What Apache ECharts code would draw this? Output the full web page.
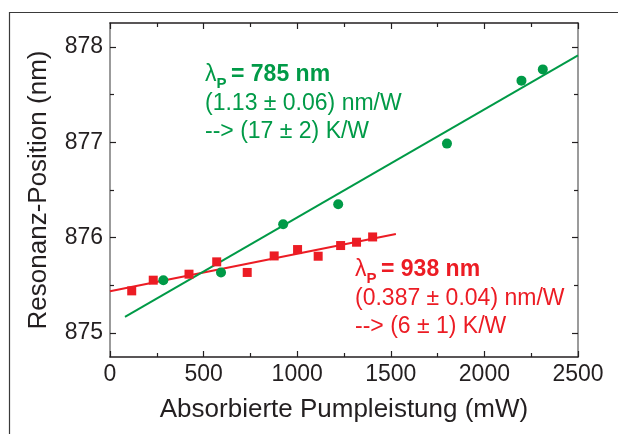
<!DOCTYPE html>
<html>
<head>
<meta charset="utf-8">
<script src="https://cdn.jsdelivr.net/npm/echarts@6/dist/echarts.min.js"></script>
<style>html,body{margin:0;padding:0;background:#fff}#c{width:618px;height:434px}</style>
</head>
<body>
<div id="c"></div>
<script>
// Data
const greenX = [285, 593, 925, 1219, 1800, 2198, 2312];
const greenY = [875.555, 875.636, 876.141, 876.351, 876.986, 877.646, 877.764];
const redX = [116, 231, 422, 570, 733, 877, 1002, 1112, 1232, 1317, 1403];
const redY = [875.443, 875.555, 875.618, 875.747, 875.636, 875.809, 875.876, 875.806, 875.918, 875.953, 876.008];
const greenFitX = [80, 2500];
const greenFitY = [875.17, 877.91];
const redFitX = [0, 1527];
const redFitY = [875.44, 876.04];
const yMajorTicks = [875, 876, 877, 878];
const yMinorTicks = [875.5, 876.5, 877.5];
const xTitle = 'Absorbierte Pumpleistung (mW)';
const yTitle = 'Resonanz-Position (nm)';
const greenText = ['λ', 'P', '= 785 nm', '(1.13 ± 0.06) nm/W', '--> (17 ± 2) K/W'];
const redText = ['λ', 'P', '= 938 nm', '(0.387 ± 0.04) nm/W', '--> (6 ± 1) K/W'];

const GREEN = '#009a47';
const RED = '#ec1c24';
const FONT = '"Liberation Sans", Arial, Helvetica, sans-serif';
const zip = (a, b) => a.map((v, i) => [v, b[i]]);

const yBase = {
  type: 'value', min: 874.75, max: 878.25,
  splitLine: { show: false }
};
const chart = echarts.init(document.getElementById('c'), null, { renderer: 'canvas' });
chart.setOption({
  animation: false,
  backgroundColor: '#fff',
  grid: { left: 110, top: 23, width: 468, height: 334, containLabel: false },
  xAxis: [
    {
      type: 'value', min: 0, max: 2500, interval: 500, position: 'bottom',
      name: xTitle, nameLocation: 'middle', nameGap: 40,
      nameTextStyle: { fontFamily: FONT, fontSize: 26, color: '#231f20' },
      axisLine: { lineStyle: { color: '#231f20', width: 1.5 } },
      axisTick: { inside: true, length: 6, lineStyle: { color: '#231f20', width: 1.2 } },
      minorTick: { show: true, splitNumber: 2, length: 4, lineStyle: { color: '#231f20', width: 1.2 } },
      axisLabel: { fontFamily: FONT, fontSize: 23, color: '#231f20', margin: 6, formatter: v => String(v) },
      splitLine: { show: false }
    },
    {
      type: 'value', min: 0, max: 2500, interval: 500, position: 'top',
      axisLine: { lineStyle: { color: '#231f20', width: 1.5 } },
      axisTick: { inside: true, length: 6, lineStyle: { color: '#231f20', width: 1.2 } },
      minorTick: { show: true, splitNumber: 2, length: 4, lineStyle: { color: '#231f20', width: 1.2 } },
      axisLabel: { show: false },
      splitLine: { show: false }
    }
  ],
  yAxis: [
    Object.assign({}, yBase, {
      position: 'left',
      name: yTitle, nameLocation: 'middle', nameGap: 58,
      nameTextStyle: { fontFamily: FONT, fontSize: 26, color: '#231f20' },
      axisLine: { show: true, lineStyle: { color: '#7a7a7a', width: 1.5 } },
      axisTick: { show: true, inside: true, length: 6, customValues: yMajorTicks, lineStyle: { color: '#231f20', width: 1.2 } },
      axisLabel: { customValues: yMajorTicks, fontFamily: FONT, fontSize: 23, color: '#231f20', margin: 7, formatter: v => String(v) }
    }),
    Object.assign({}, yBase, {
      position: 'left',
      axisLine: { show: false },
      axisTick: { show: true, inside: true, length: 4, customValues: yMinorTicks, lineStyle: { color: '#231f20', width: 1.2 } },
      axisLabel: { show: false }
    }),
    Object.assign({}, yBase, {
      position: 'right',
      axisLine: { show: true, lineStyle: { color: '#7a7a7a', width: 1.5 } },
      axisTick: { show: true, inside: true, length: 6, customValues: yMajorTicks, lineStyle: { color: '#231f20', width: 1.2 } },
      axisLabel: { show: false }
    }),
    Object.assign({}, yBase, {
      position: 'right',
      axisLine: { show: false },
      axisTick: { show: true, inside: true, length: 4, customValues: yMinorTicks, lineStyle: { color: '#231f20', width: 1.2 } },
      axisLabel: { show: false }
    })
  ],
  series: [
    {
      type: 'line', data: zip(redFitX, redFitY), showSymbol: false, symbol: 'none',
      lineStyle: { color: RED, width: 2 }, z: 2
    },
    {
      type: 'line', data: zip(greenFitX, greenFitY), showSymbol: false, symbol: 'none',
      lineStyle: { color: GREEN, width: 2 }, z: 2
    },
    {
      type: 'scatter', data: zip(redX, redY), symbol: 'rect', symbolSize: 9,
      itemStyle: { color: RED, opacity: 1 }, z: 3
    },
    {
      type: 'scatter', data: zip(greenX, greenY), symbol: 'circle', symbolSize: 10,
      itemStyle: { color: GREEN, opacity: 1 }, z: 3
    }
  ],
  graphic: [
    { type: 'rect', left: 7, top: 10, shape: { width: 700, height: 500 }, style: { fill: 'none', stroke: '#3a3a3a', lineWidth: 1.2 }, silent: true, z: -1 },
    // green annotation
    { type: 'text', x: 205, y: 75, style: { text: greenText[0], font: '23px ' + FONT, fill: GREEN, textVerticalAlign: 'middle' } },
    { type: 'text', x: 216.5, y: 84, style: { text: greenText[1], font: 'bold 15px ' + FONT, fill: GREEN, textVerticalAlign: 'middle' } },
    { type: 'text', x: 231, y: 75, style: { text: greenText[2], font: 'bold 23px ' + FONT, fill: GREEN, textVerticalAlign: 'middle' } },
    { type: 'text', x: 205, y: 104, style: { text: greenText[3], font: '23px ' + FONT, fill: GREEN, textVerticalAlign: 'middle' } },
    { type: 'text', x: 205, y: 132, style: { text: greenText[4], font: '23px ' + FONT, fill: GREEN, textVerticalAlign: 'middle' } },
    // red annotation
    { type: 'text', x: 355, y: 270, style: { text: redText[0], font: '23px ' + FONT, fill: RED, textVerticalAlign: 'middle' } },
    { type: 'text', x: 366.5, y: 279, style: { text: redText[1], font: 'bold 15px ' + FONT, fill: RED, textVerticalAlign: 'middle' } },
    { type: 'text', x: 381, y: 270, style: { text: redText[2], font: 'bold 23px ' + FONT, fill: RED, textVerticalAlign: 'middle' } },
    { type: 'text', x: 355, y: 299, style: { text: redText[3], font: '23px ' + FONT, fill: RED, textVerticalAlign: 'middle' } },
    { type: 'text', x: 355, y: 327, style: { text: redText[4], font: '23px ' + FONT, fill: RED, textVerticalAlign: 'middle' } }
  ]
});
</script>
</body>
</html>
